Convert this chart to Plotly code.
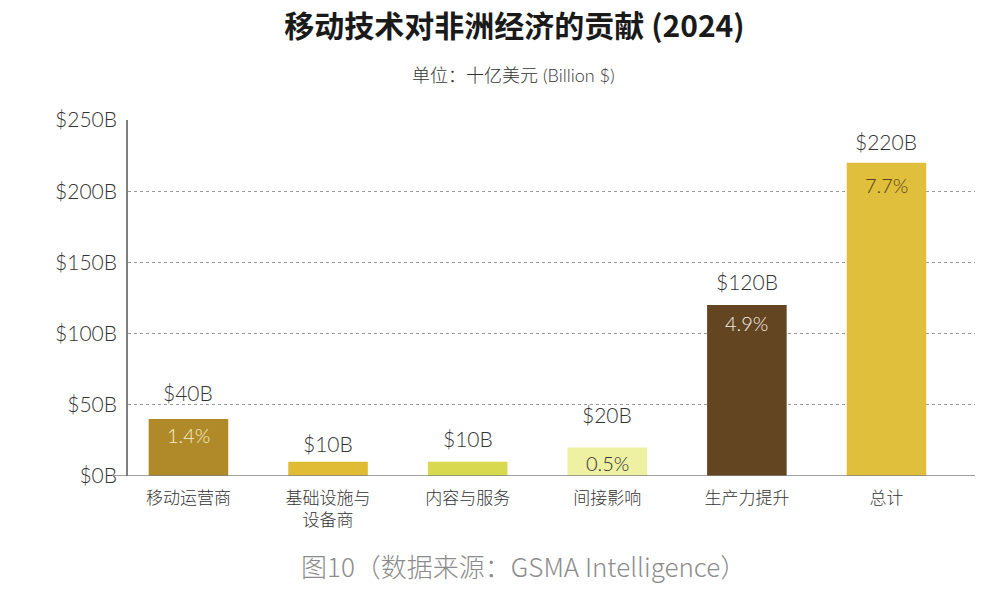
import plotly.graph_objects as go

categories = ["移动运营商", "基础设施与<br>设备商", "内容与服务", "间接影响", "生产力提升", "总计"]
values = [40, 10, 10, 20, 120, 220]
value_labels = ["$40B", "$10B", "$10B", "$20B", "$120B", "$220B"]
pct_labels = ["1.4%", "", "", "0.5%", "4.9%", "7.7%"]
y_tickvals = [0, 50, 100, 150, 200, 250]
y_ticktext = ["$0B", "$50B", "$100B", "$150B", "$200B", "$250B"]

bar_colors = ["#B08A28", "#E0BC35", "#D8D94E", "#EEF0A2", "#634522", "#E0BF3C"]
pct_colors = ["#F6ECC8", "#333333", "#333333", "#333333", "#F4EEE2", "#5A4318"]
label_shift = [27, 18, 23, 33, 24, 21]
pct_shift = [-16, 0, 0, -15, -18, -22]

FONT = "Lato, 'Noto Sans CJK SC', sans-serif"
CJK = "'Noto Sans CJK SC', sans-serif"

x = list(range(len(categories)))
fig = go.Figure()
fig.add_trace(go.Bar(x=x, y=values, width=0.57, marker=dict(color=bar_colors, line=dict(width=0)),
                     hoverinfo="skip"))

for i, v in enumerate(values):
    fig.add_annotation(x=i, y=v, text=value_labels[i], showarrow=False, yshift=label_shift[i],
                       font=dict(family=FONT, size=21, color="#333333", weight=300),
                       xanchor="center", yanchor="middle")
    if pct_labels[i]:
        fig.add_annotation(x=i, y=v, text=pct_labels[i], showarrow=False, yshift=pct_shift[i],
                           font=dict(family=FONT, size=20, color=pct_colors[i], weight=300),
                           xanchor="center", yanchor="middle")

fig.add_shape(type="line", xref="paper", yref="y", x0=-0.019, x1=1, y0=0, y1=0,
              line=dict(color="#808080", width=1.5))

fig.update_layout(
    width=999, height=591,
    margin=dict(l=128, r=24, t=120, b=115),
    paper_bgcolor="white", plot_bgcolor="white",
    showlegend=False,
    title=dict(text="<b>移动技术对非洲经济的贡献 (2024)</b>", x=0.515, xanchor="center", y=0.955, yanchor="middle",
               font=dict(family=CJK, size=30, color="#1a1a1a")),
    xaxis=dict(range=[-0.433, 5.634], tickvals=x, ticktext=categories, showgrid=False, zeroline=False,
               showline=False, tickfont=dict(family=CJK, size=17, color="#333333", weight=300),
               ticklabelstandoff=10, fixedrange=True),
    yaxis=dict(range=[0, 250], tickvals=y_tickvals, ticktext=y_ticktext, showgrid=True,
               gridcolor="#9a9a9a", griddash="dot", gridwidth=1, zeroline=False,
               showline=True, linecolor="#808080", linewidth=1.5,
               tickfont=dict(family=FONT, size=21, color="#333333", weight=300), ticklabelstandoff=5),
    annotations=list(fig.layout.annotations) + [
        dict(text="单位：十亿美元 (Billion $)", xref="paper", yref="paper", x=0.455, y=1.0, yshift=45,
             showarrow=False, xanchor="center", yanchor="middle",
             font=dict(family=FONT, size=18, color="#333333", weight=300)),
        dict(text="图10（数据来源：GSMA Intelligence）", xref="paper", yref="paper", x=0.458, y=0,
             yshift=-89, xshift=8,
             showarrow=False, xanchor="center", yanchor="middle",
             font=dict(family=CJK, size=26, color="#8c8c8c", weight=300)),
    ],
)

fig.write_html("out.html")
